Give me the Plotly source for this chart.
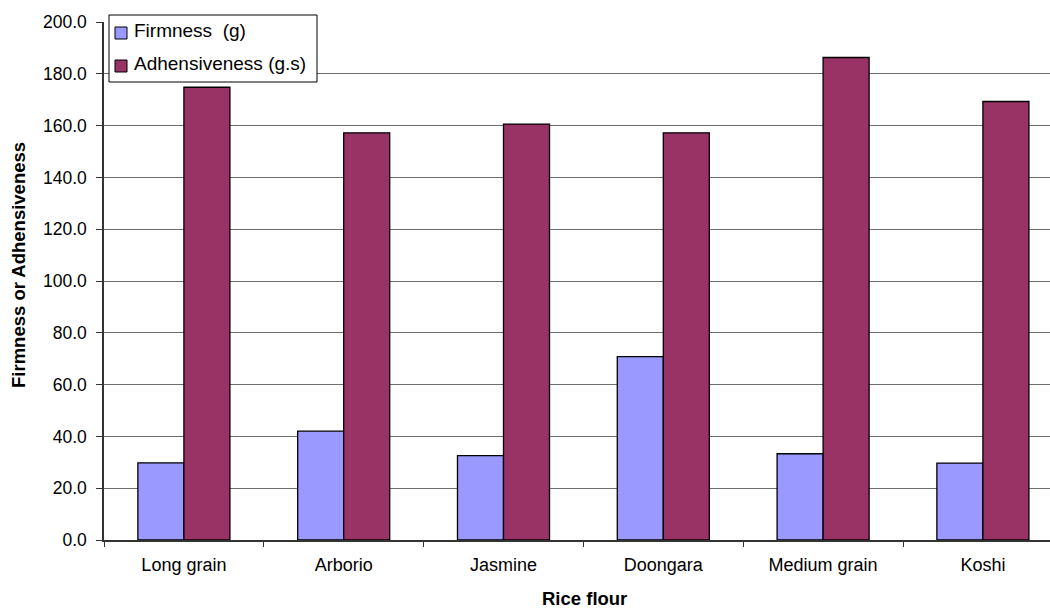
import plotly.graph_objects as go

# Rice flour texture measurements
categories = ["Long grain", "Arborio", "Jasmine", "Doongara", "Medium grain", "Koshi"]
firmness = [29.8, 42.0, 32.6, 70.8, 33.3, 29.7]
adhesiveness = [174.8, 157.2, 160.6, 157.2, 186.3, 169.3]
series_names = ["Firmness  (g)", "Adhensiveness (g.s)"]
y_ticks = [0, 20, 40, 60, 80, 100, 120, 140, 160, 180, 200]

BLUE = "#9999FF"
PLUM = "#993366"
FONT = "Liberation Sans, Arial, sans-serif"

W, H = 1050, 611
L, R, T, B = 104, 0, 22, 71
plot_w = W - L - R
plot_h = H - T - B
cat_px = 159.8  # pixel width of one category slot


def px(x):
    return (x - L) / plot_w


def py(y):
    return (H - B - y) / plot_h


fig = go.Figure()
fig.add_trace(go.Bar(
    x=categories, y=firmness, name=series_names[0],
    marker=dict(color=BLUE, line=dict(color="black", width=1.3)),
    showlegend=False,
))
fig.add_trace(go.Bar(
    x=categories, y=adhesiveness, name=series_names[1],
    marker=dict(color=PLUM, line=dict(color="black", width=1.3)),
    showlegend=False,
))

# legend box drawn by hand
shapes = [
    dict(type="rect", xref="paper", yref="paper",
         x0=px(109), x1=px(317), y0=py(82), y1=py(15),
         fillcolor="white", line=dict(color="black", width=1), layer="above"),
    dict(type="rect", xref="paper", yref="paper",
         x0=px(115), x1=px(127), y0=py(39), y1=py(27),
         fillcolor=BLUE, line=dict(color="black", width=1), layer="above"),
    dict(type="rect", xref="paper", yref="paper",
         x0=px(115), x1=px(127), y0=py(72), y1=py(60),
         fillcolor=PLUM, line=dict(color="black", width=1), layer="above"),
]

annotations = [
    dict(text=series_names[0], xref="paper", yref="paper", x=px(132), y=py(31),
         xanchor="left", yanchor="middle", showarrow=False,
         font=dict(family=FONT, size=19, color="black")),
    dict(text=series_names[1], xref="paper", yref="paper", x=px(132), y=py(64),
         xanchor="left", yanchor="middle", showarrow=False,
         font=dict(family=FONT, size=19, color="black")),
    dict(text="<b>Firmness or Adhensiveness</b>", xref="paper", yref="paper",
         x=px(18), y=py(265), xanchor="center", yanchor="middle",
         textangle=-90, showarrow=False,
         font=dict(family=FONT, size=18.5, color="black")),
    dict(text="<b>Rice flour</b>", xref="paper", yref="paper",
         x=px(584), y=py(598), xanchor="center", yanchor="middle",
         showarrow=False, font=dict(family=FONT, size=18.5, color="black")),
]

fig.update_layout(
    width=W, height=H,
    margin=dict(l=L, r=R, t=T, b=B, pad=0),
    paper_bgcolor="white", plot_bgcolor="white",
    barmode="group", bargap=0.424, bargroupgap=0,
    font=dict(family=FONT, color="black"),
    shapes=shapes, annotations=annotations,
    showlegend=False,
)

fig.update_xaxes(
    type="category",
    range=[-0.5, -0.5 + plot_w / cat_px],
    showline=True, linecolor="#333333", linewidth=1.5,
    ticks="outside", tickson="boundaries", ticklen=5,
    tickcolor="#333333", tickwidth=1,
    tickfont=dict(family=FONT, size=18, color="black"),
    ticklabelstandoff=8,
    showgrid=False, zeroline=False,
)
fig.update_yaxes(
    range=[0, 200],
    tickvals=y_ticks, tickformat=".1f",
    showline=True, linecolor="#333333", linewidth=1.5,
    ticks="outside", ticklen=6, tickcolor="#333333", tickwidth=1,
    tickfont=dict(family=FONT, size=17.5, color="black"),
    ticklabelstandoff=6,
    showgrid=True, gridcolor="#6e6e6e", gridwidth=1,
    zeroline=False,
)

fig.write_html("out.html")
